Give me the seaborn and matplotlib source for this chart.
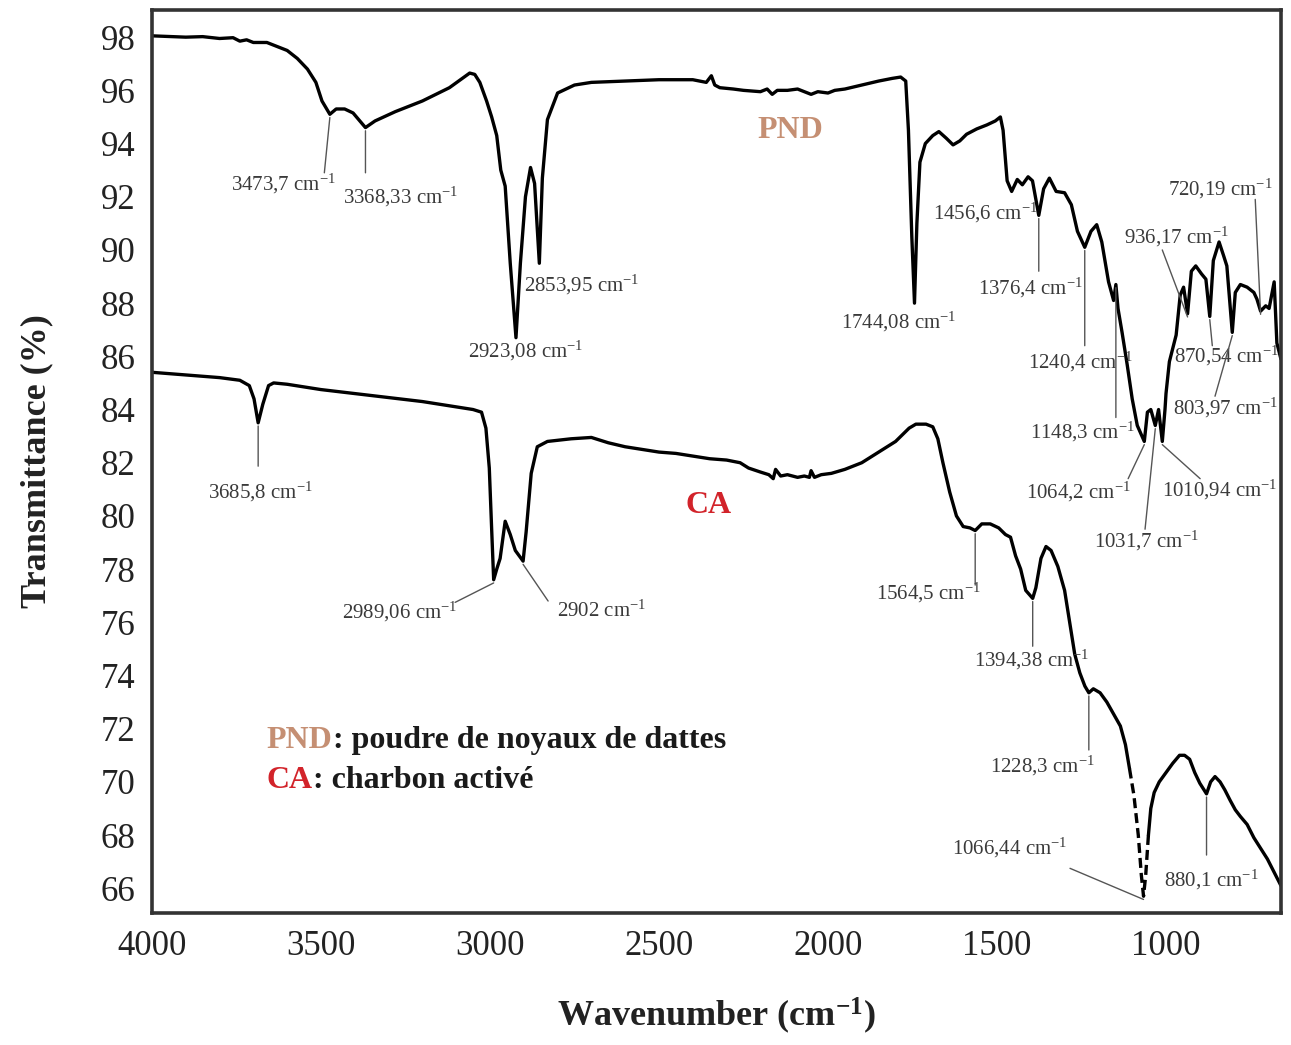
import numpy as np
import pandas as pd
import seaborn as sns
import matplotlib
matplotlib.use("Agg")
import matplotlib.pyplot as plt

# ---- FTIR spectra (wavenumber in cm-1, transmittance in %) ----
pnd_wn = [4000, 3900, 3850, 3800, 3760, 3740, 3720, 3700, 3660, 3640, 3600, 3570, 3540,
          3515, 3497, 3473.7, 3455, 3430, 3405, 3385, 3368.33, 3340, 3280, 3200, 3120,
          3060, 3045, 3030, 3010, 2995, 2980, 2968, 2955, 2940, 2923.08, 2910, 2895,
          2880, 2868, 2853.95, 2845, 2830, 2800, 2750, 2700, 2600, 2500, 2400, 2360,
          2345, 2335, 2320, 2280, 2250, 2200, 2180, 2165, 2150, 2120, 2090, 2070, 2050,
          2030, 2000, 1980, 1950, 1900, 1850, 1810, 1785, 1770, 1762, 1752, 1744.08,
          1737, 1728, 1712, 1690, 1672, 1650, 1630, 1610, 1590, 1560, 1530, 1505, 1490,
          1482, 1470, 1456.6, 1440, 1425, 1408, 1395, 1376.4, 1362, 1345, 1325, 1300,
          1280, 1262, 1240.4, 1222, 1205, 1190, 1170, 1155, 1148.3, 1142, 1130, 1115,
          1100, 1085, 1064.2, 1055, 1045, 1031.7, 1022, 1010.94, 1003, 1000, 990, 980,
          970, 958, 948, 936.17, 925, 912, 895, 882, 870.54, 860, 843, 830, 820, 803.97,
          795, 780, 760, 740, 731, 720.19, 705, 695, 680, 672, 660]
pnd_t = [98.05, 98.0, 98.02, 97.95, 97.98, 97.85, 97.9, 97.8, 97.8, 97.7, 97.5, 97.2, 96.8,
         96.3, 95.6, 95.1, 95.3, 95.3, 95.15, 94.85, 94.6, 94.85, 95.2, 95.6, 96.1,
         96.65, 96.6, 96.3, 95.6, 95.0, 94.3, 93.0, 92.4, 89.5, 86.7, 89.5, 92.0,
         93.1, 92.5, 89.5, 92.7, 94.9, 95.9, 96.2, 96.3, 96.35, 96.4, 96.4, 96.3,
         96.55, 96.2, 96.1, 96.05, 96.0, 95.95, 96.05, 95.85, 96.0, 96.0, 96.05, 95.95, 95.85,
         95.95, 95.9, 96.0, 96.05, 96.2, 96.35, 96.45, 96.5, 96.35, 94.5, 90.5, 88.0,
         91.0, 93.3, 94.0, 94.3, 94.45, 94.2, 93.95, 94.1, 94.35, 94.55, 94.7, 94.85, 95.0,
         94.5, 92.6, 92.2, 92.65, 92.45, 92.75, 92.6, 91.3, 92.3, 92.7, 92.2, 92.15,
         91.7, 90.7, 90.1, 90.7, 90.95, 90.3, 88.8, 88.1, 88.7, 87.8, 86.9, 85.7,
         84.4, 83.4, 82.8, 83.9, 84.0, 83.4, 84.0, 82.8, 84.0, 84.6, 85.8, 86.3,
         86.8, 88.3, 88.6, 87.6, 89.2, 89.4, 89.1, 88.9, 87.5, 89.6, 90.3, 89.8, 89.4, 86.9,
         88.4, 88.7, 88.6, 88.4, 88.15, 87.7, 87.9, 87.8, 88.8, 86.5, 85.9]

ca_wn = [4000, 3900, 3800, 3740, 3712, 3698, 3685.8, 3672, 3655, 3640, 3600, 3500, 3400,
         3300, 3200, 3100, 3050, 3025, 3012, 3002, 2995, 2989.06, 2980, 2970, 2955, 2940,
         2925, 2902, 2893, 2878, 2860, 2830, 2760, 2700, 2650, 2600, 2500, 2450, 2400,
         2350, 2300, 2260, 2235, 2200, 2175, 2162, 2155, 2140, 2120, 2090, 2070, 2055,
         2050, 2040, 2020, 1990, 1950, 1900, 1850, 1800, 1760, 1740, 1710, 1690, 1675,
         1660, 1640, 1620, 1600, 1580, 1564.5, 1545, 1520, 1495, 1475, 1460, 1445, 1430,
         1415, 1394.38, 1385, 1370, 1355, 1340, 1320, 1300, 1285, 1270, 1255, 1240,
         1228.3, 1215, 1195, 1175, 1155, 1135, 1120, 1108, 1095, 1082, 1073, 1066.44,
         1060, 1052, 1045, 1035, 1020, 1000, 980, 960, 945, 930, 915, 900, 880.1, 868,
         855, 840, 826, 810, 795, 780, 760, 740, 720, 700, 680, 660]
ca_t = [85.4, 85.3, 85.2, 85.1, 84.9, 84.4, 83.5, 84.2, 84.9, 85.0, 84.95, 84.75, 84.6,
        84.45, 84.3, 84.1, 84.0, 83.9, 83.3, 81.8, 79.5, 77.6, 78.0, 78.4, 79.8, 79.3,
        78.7, 78.3, 79.4, 81.6, 82.6, 82.8, 82.9, 82.95, 82.75, 82.6, 82.4, 82.35, 82.25,
        82.15, 82.1, 82.0, 81.8, 81.65, 81.55, 81.4, 81.75, 81.5, 81.55, 81.45, 81.5, 81.45,
        81.7, 81.45, 81.55, 81.6, 81.75, 82.0, 82.4, 82.8, 83.3, 83.45, 83.45, 83.35, 82.9,
        82.0, 80.9, 80.0, 79.6, 79.55, 79.45, 79.7, 79.7, 79.55, 79.3, 79.2, 78.5, 78.0,
        77.2, 76.9, 77.3, 78.4, 78.85, 78.7, 78.1, 77.2, 76.0, 74.8, 74.1, 73.6,
        73.35, 73.5, 73.35, 73.0, 72.55, 72.1, 71.4, 70.5, 69.5, 68.0, 66.5, 65.7,
        66.5, 68.0, 69.0, 69.6, 70.0, 70.35, 70.7, 71.0, 71.0, 70.85, 70.35, 69.95, 69.55, 70.0,
        70.2, 70.0, 69.7, 69.3, 68.95, 68.7, 68.4, 67.9, 67.5, 67.1, 66.6, 66.1]

# ---- labelled bands ----
pnd_bands = [3473.7, 3368.33, 2923.08, 2853.95, 1744.08, 1456.6, 1376.4, 1240.4,
             1148.3, 1064.2, 1031.7, 1010.94, 936.17, 870.54, 803.97, 720.19]
pnd_band_labels = ["3473,7", "3368,33", "2923,08", "2853,95", "1744,08", "1456,6",
                   "1376,4", "1240,4", "1148,3", "1064,2", "1031,7", "1010,94",
                   "936,17", "870,54", "803,97", "720,19"]
ca_bands = [3685.8, 2989.06, 2902, 1564.5, 1394.38, 1228.3, 1066.44, 880.1]
ca_band_labels = ["3685,8", "2989,06", "2902", "1564,5", "1394,38", "1228,3",
                  "1066,44", "880,1"]

# text anchor (x, y) and end of the leader line (None = no leader)
pnd_text_pos = [(3612, 92.5), (3263, 92.0), (2893, 86.2), (2728, 88.7), (1790, 87.3),
                (1535, 91.4), (1402, 88.56), (1254, 85.8), (1248, 83.15), (1260, 80.9),
                (1059, 79.05), (840, 80.97), (970, 90.5), (822, 86.0), (825, 84.05),
                (840, 92.3)]
pnd_leader_end = [(3490, 92.9), (3368.33, 92.9), None, None, None, None,
                  (1376.4, 89.2), (1240.4, 86.4), (1148.3, 83.7), (1112, 81.4),
                  (1062, 79.5), (899, 81.4), (1011, 90.0), (863, 86.4), (855, 84.5),
                  (736, 91.9)]
ca_text_pos = [(3680, 80.9), (3266, 76.4), (2668, 76.4), (1704, 77.1), (1396, 74.6),
               (1366, 70.6), (1461, 67.5), (867, 66.3)]
ca_leader_end = [(3685.8, 81.87), (3103, 76.75), (2828, 76.8), (1564.5, 77.4),
                 (1394.38, 75.1), (1228.3, 71.2), (1284, 66.75), (880.1, 67.25)]

PND_COLOR = "#C58F73"
CA_COLOR = "#D2232A"
TEXT_GRAY = "#3a3a3a"

sns.set_style("white")
plt.rcParams["font.family"] = ["Liberation Serif", "DejaVu Serif"]
plt.rcParams["mathtext.fontset"] = "custom"
plt.rcParams["mathtext.rm"] = "Liberation Serif"
plt.rcParams["mathtext.it"] = "Liberation Serif:italic"
plt.rcParams["mathtext.bf"] = "Liberation Serif:bold"

fig = plt.figure(figsize=(12.91, 10.45), dpi=100)
ax = fig.add_axes([0.1177, 0.1263, 0.8745, 0.8641])

pnd = pd.DataFrame({"wn": pnd_wn, "T": pnd_t})
ca = pd.DataFrame({"wn": ca_wn, "T": ca_t})

line_kw = dict(color="black", linewidth=2.4, sort=False, estimator=None, ax=ax)
sns.lineplot(data=pnd, x="wn", y="T", **line_kw)

# CA trace: the deep 1066 band is drawn dashed
ca_a = ca[ca["wn"] >= 1108]
ca_b = ca[(ca["wn"] <= 1108) & (ca["wn"] >= 1052)]
ca_c = ca[ca["wn"] <= 1052]
sns.lineplot(data=ca_a, x="wn", y="T", **line_kw)
sns.lineplot(data=ca_b, x="wn", y="T", linestyle=(0, (3, 1.5)), **line_kw)
sns.lineplot(data=ca_c, x="wn", y="T", **line_kw)

ax.set_xlim(4000, 660)
ax.set_ylim(65.07, 99.02)
ax.set_xticks([4000, 3500, 3000, 2500, 2000, 1500, 1000])
ax.set_yticks(np.arange(66, 99, 2))
ax.tick_params(axis="both", direction="in", length=12, width=2, color="#333333",
               labelsize=25, labelcolor="#222222", top=False, right=False)
ax.tick_params(axis="y", pad=12)
ax.tick_params(axis="x", pad=12)
for sp in ax.spines.values():
    sp.set_color("#333333")
    sp.set_linewidth(2.6)

ax.set_xlabel(r"Wavenumber (cm$^{\mathbf{-1}}$)", fontsize=26, fontweight="bold",
              labelpad=24, color="#222222")
ax.set_ylabel("Transmittance (%)", fontsize=26, fontweight="bold", labelpad=34,
              color="#222222")


def label_bands(wn, t, bands, labels, text_pos, ends):
    order = np.argsort(wn)
    wn_s = np.asarray(wn)[order]
    t_s = np.asarray(t)[order]
    for band, lab, (tx, ty), end in zip(bands, labels, text_pos, ends):
        if end is not None:
            yb = np.interp(band, wn_s, t_s)
            ax.annotate("", xy=(band, yb - 0.12), xytext=end,
                        arrowprops=dict(arrowstyle="-", color="#555555", lw=1.0,
                                        shrinkA=0, shrinkB=0))
        ax.text(tx, ty, lab + r" cm$^{-1}$", fontsize=15, color=TEXT_GRAY,
                ha="center", va="center")


label_bands(pnd_wn, pnd_t, pnd_bands, pnd_band_labels, pnd_text_pos, pnd_leader_end)
label_bands(ca_wn, ca_t, ca_bands, ca_band_labels, ca_text_pos, ca_leader_end)

# curve names
ax.text(2112, 94.5, "PND", fontsize=23, fontweight="bold", color=PND_COLOR,
        ha="center", va="center")
ax.text(2352, 80.4, "CA", fontsize=23, fontweight="bold", color=CA_COLOR,
        ha="center", va="center")

# key
def key_line(x, y, name, desc, color):
    t1 = ax.text(x, y, name, fontsize=23, fontweight="bold", color=color,
                 ha="left", va="center")
    fig.canvas.draw()
    bb = t1.get_window_extent()
    inv = ax.transData.inverted()
    x_end = inv.transform((bb.x1, bb.y0))[0]
    ax.text(x_end, y, desc, fontsize=23, fontweight="bold", color="#1a1a1a",
            ha="left", va="center")


key_line(3660, 71.55, "PND", ": poudre de noyaux de dattes", PND_COLOR)
key_line(3660, 70.05, "CA", ": charbon activé", CA_COLOR)

fig.savefig("out.png", dpi=100, facecolor="white")
